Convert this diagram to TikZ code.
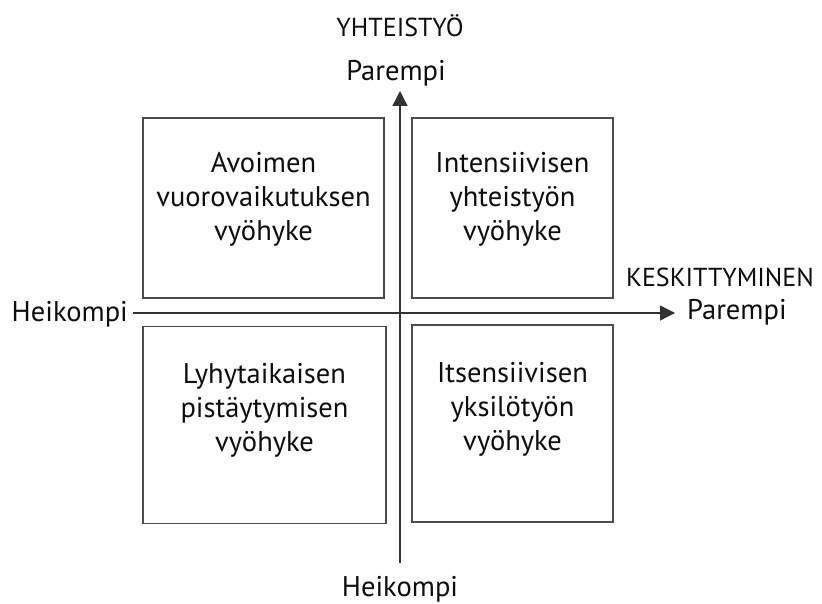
\documentclass[tikz,border=0pt]{standalone}
\usepackage{fontspec}
\setmainfont{PT Sans}
\usetikzlibrary{arrows.meta}
\begin{document}
\begin{tikzpicture}[x=1pt,y=1pt,
  zone/.style={draw=black!70,line width=1.3pt,inner sep=0pt,minimum width=#1},
  zonetext/.style={align=center,font=\fontsize{28.5}{34}\selectfont,text=black!95},
  lbl/.style={font=\fontsize{26}{30}\selectfont,text=black!95,inner sep=0pt},
  lbls/.style={font=\fontsize{28.5}{30}\selectfont,text=black!95,inner sep=0pt},
  axis/.style={draw=black!80,line width=1.3pt,-{Triangle[length=15pt,width=15pt]}}]
\useasboundingbox (0,0) rectangle (822,603);
% boxes
\node[zone=241pt,minimum height=180pt] (tl) at (263.5,395) {};
\node[zone=201pt,minimum height=180pt] (tr) at (512.5,395) {};
\node[zone=243pt,minimum height=197pt] (bl) at (264.5,178) {};
\node[zone=201pt,minimum height=197pt] (br) at (512.5,179.5) {};
% axes
\coordinate (xl) at (133,290);
\coordinate (xr) at (675,290);
\coordinate (yb) at (400,40);
\coordinate (ytop) at (400,512);
\draw[axis] (xl) -- (xr);
\draw[axis] (yb) -- (ytop);
% zone texts
\node[zonetext] (tlt) at (263.5,404) {Avoimen\\vuorovaikutuksen\\vyöhyke};
\node[zonetext] (trt) at (512.5,404) {Intensiivisen\\yhteistyön\\vyöhyke};
\node[zonetext] (blt) at (264.5,193) {Lyhytaikaisen\\pistäytymisen\\vyöhyke};
\node[zonetext] (brt) at (512.5,194) {Itsensiivisen\\yksilötyön\\vyöhyke};
% axis labels
\node[lbl,anchor=base] (yh) at (400,566) {YHTEISTYÖ};
\node[lbls,anchor=base] (yp) at (396,522) {Parempi};
\node[lbl,anchor=base] (kk) at (720,316) {KESKITTYMINEN};
\node[lbls,anchor=base west] (kp) at (687,283) {Parempi};
\node[lbls,anchor=base east] (hl) at (128,281) {Heikompi};
\node[lbls,anchor=base] (hb) at (400,7) {Heikompi};
\end{tikzpicture}
\end{document}
